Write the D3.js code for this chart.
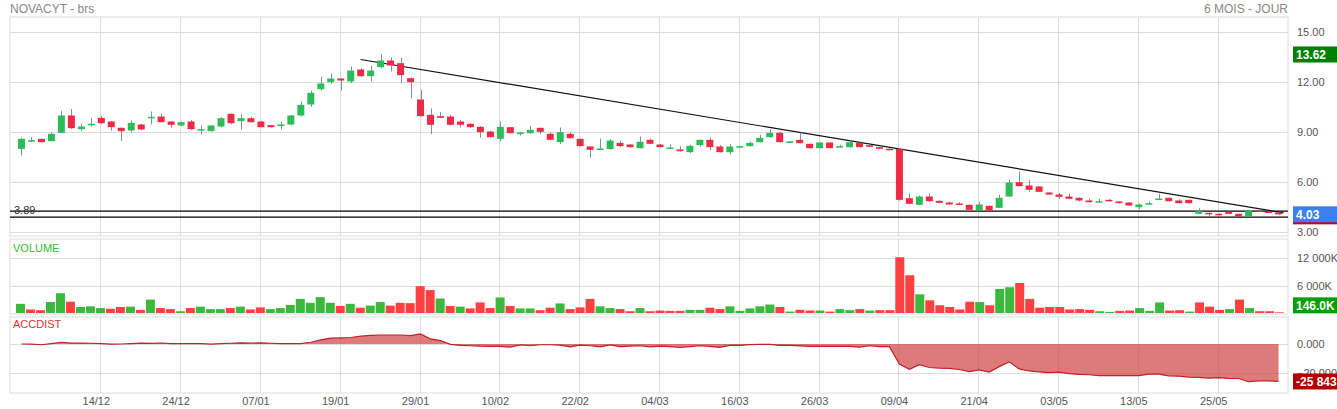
<!DOCTYPE html>
<html><head><meta charset="utf-8">
<script src="https://cdn.jsdelivr.net/npm/d3@7"></script>
<style>body{margin:0;background:#fff}text{font-family:Arial,"Liberation Sans",sans-serif}</style>
</head><body><div id="canvas"></div>
<script>
"use strict"

/* daily candles: open, high, low, close */
let opens = [7.96,8.44,8.56,8.42,8.92,9.96,9.14,9.44,9.82,9.60,9.22,9.06,9.42,9.86,9.90,9.60,9.36,9.60,9.12,9.02,
  9.30,10.06,9.62,9.80,9.60,9.38,9.40,9.42,9.96,10.62,11.54,11.96,12.18,12.00,12.72,12.32,12.86,13.26,13.10,12.20,
  10.92,10.00,9.92,9.90,9.60,9.46,9.28,9.00,8.56,9.26,8.84,8.90,9.22,8.86,8.36,8.86,8.56,8.10,7.96,7.94,
  8.32,8.22,8.00,8.50,8.22,8.02,7.92,7.76,8.18,8.50,8.10,7.76,8.08,8.12,8.36,8.66,8.92,8.38,8.50,8.26,
  8.00,8.34,8.10,8.06,8.32,8.18,8.06,7.96,7.96,5.00,4.60,5.10,4.84,4.74,4.68,4.60,4.26,4.54,4.42,5.10,
  5.96,5.76,5.70,5.34,5.22,5.10,5.02,4.86,4.80,4.90,4.80,4.74,4.46,4.68,4.96,5.02,4.86,4.90,4.06,4.12,
  4.06,4.18,4.06,3.90,4.26,4.20,4.14];
let highs = [8.62,8.66,8.58,8.95,10.24,10.36,9.46,9.82,9.92,9.62,9.24,9.66,9.46,10.20,10.06,9.62,9.60,9.70,9.36,9.38,
  9.86,10.08,10.02,9.90,9.64,9.40,9.56,10.00,10.80,11.46,12.28,12.48,12.20,12.90,12.80,12.96,13.64,13.44,13.42,12.26,
  11.50,10.38,10.16,10.00,9.70,9.50,9.32,9.04,9.60,9.28,8.96,9.34,9.24,8.96,9.24,8.98,8.58,8.12,8.58,8.54,
  8.44,8.26,8.70,8.58,8.24,8.22,8.12,8.20,8.52,8.64,8.18,8.26,8.14,8.40,8.80,9.14,8.98,8.44,8.94,8.28,
  8.36,8.36,8.20,8.48,8.40,8.22,8.08,8.00,8.00,5.28,5.16,5.30,4.86,4.80,4.76,4.62,4.76,4.56,5.20,6.10,
  6.60,6.10,5.72,5.36,5.32,5.28,5.06,4.98,4.96,4.94,4.82,4.76,4.68,4.80,5.26,5.04,4.94,4.92,4.40,4.14,
  4.08,4.20,4.08,4.30,4.28,4.22,4.16];
let lows = [7.56,8.36,8.34,8.40,8.90,9.16,9.02,9.30,9.44,9.06,8.44,8.94,9.08,9.42,9.54,9.22,9.32,9.10,8.82,9.00,
  9.24,9.44,9.10,9.52,9.24,9.24,9.12,9.36,9.90,10.48,11.46,11.86,11.46,11.90,12.26,12.00,12.80,12.60,11.90,10.98,
  9.90,8.84,9.80,9.36,9.26,9.22,8.62,8.64,8.40,8.88,8.76,8.86,8.84,8.48,8.24,8.58,8.10,7.42,7.94,7.92,
  8.06,8.04,7.98,8.24,8.04,8.00,7.80,7.70,8.10,7.90,7.74,7.62,8.04,8.10,8.34,8.62,8.34,8.34,8.28,7.96,
  7.98,7.98,8.04,8.04,8.04,8.06,7.94,7.90,4.84,4.62,4.58,4.78,4.70,4.60,4.58,4.28,4.24,4.24,4.40,5.08,
  5.70,5.38,5.36,5.20,4.96,4.94,4.80,4.74,4.78,4.80,4.68,4.54,4.34,4.60,4.96,4.80,4.68,4.68,4.04,3.90,
  3.96,4.04,3.88,3.88,4.16,4.10,3.98];
let closes = [8.56,8.48,8.36,8.86,9.96,9.20,9.30,9.46,9.50,9.26,9.02,9.52,9.12,9.88,9.56,9.40,9.56,9.14,9.14,9.36,
  9.80,9.50,9.80,9.56,9.26,9.26,9.42,9.96,10.60,11.32,11.88,12.18,12.06,12.66,12.32,12.66,13.26,12.96,12.38,11.96,
  9.92,9.40,9.82,9.40,9.40,9.26,8.96,8.66,9.28,8.90,8.94,9.10,8.98,8.50,8.96,8.60,8.12,7.90,7.98,8.46,
  8.12,8.06,8.38,8.26,8.06,8.04,7.82,8.14,8.50,8.06,7.76,8.10,8.12,8.32,8.62,8.92,8.36,8.40,8.30,8.00,
  8.34,8.00,8.12,8.36,8.06,8.08,7.96,7.94,4.90,4.66,5.10,4.82,4.72,4.62,4.60,4.30,4.62,4.26,5.02,5.94,
  5.72,5.50,5.38,5.22,5.08,4.96,4.86,4.76,4.82,4.82,4.70,4.56,4.62,4.70,4.98,4.82,4.70,4.70,4.22,4.06,
  3.98,4.06,3.90,4.26,4.18,4.12,4.03];

/* volume in thousands of shares */
let volumes = [2000,770,616,2390,4310,2460,1310,1460,1080,924,1310,1390,690,2930,1080,850,385,1080,1390,850,
  850,1080,1390,770,1230,850,1080,1770,3080,2230,3465,2230,1540,2000,1155,1620,2390,1620,2230,2150,
  5850,5000,3160,1540,1390,1000,2310,1080,3390,1540,1000,1000,616,1155,2080,850,1230,3080,1460,1080,
  850,385,1080,385,540,460,460,690,690,1155,850,1460,460,1000,1460,1850,1310,310,690,540,
  540,310,850,616,850,540,616,616,12170,8240,4080,2770,1690,1310,770,2460,2390,1690,5240,5620,
  6545,3080,1155,1310,1310,770,850,690,385,230,460,540,1080,460,2310,540,616,310,2310,1390,
  690,850,2930,1080,385,385,146];

/* accumulation / distribution line */
let accdist = [0,-100,-500,300,1200,600,700,500,200,-100,0,300,600,400,700,300,300,300,300,-100,
  200,500,800,600,800,500,300,300,300,1200,2800,4000,4200,4500,5400,6000,6200,6200,6200,5800,
  7000,3500,2300,-300,-1000,-1200,-1500,-1600,-1600,-2200,-600,-1200,-500,-500,-800,-2000,-800,-1200,-2000,-600,
  -1800,-1400,-1200,-2000,-1500,-1800,-2400,-1800,-1200,-1700,-2300,-1000,-900,-400,-300,-300,-900,-900,-1300,-1600,
  -1600,-1600,-1600,-1600,-2200,-1200,-1800,-1800,-13800,-17500,-14200,-16200,-16600,-16800,-17600,-19000,-17800,-19400,-15600,-12300,
  -17200,-18600,-19200,-19800,-19400,-20400,-21000,-21200,-21800,-21800,-21800,-21800,-21800,-20800,-20800,-22000,-22200,-22800,-23000,-23500,
  -23200,-23700,-23800,-26000,-25400,-25400,-25843];

let tickIndex = [8,16,24,32,40,48,56,64,72,80,88,96,104,112,120];
let tickLabels = ["14/12","24/12","07/01","19/01","29/01","10/02","22/02","04/03","16/03","26/03","09/04","21/04","03/05","13/05","25/05"];
let priceTicks = [15,12,9,6,3];
let volumeTicks = [12000,6000];
let accTicks = [0,-20000];
let trendIndex = [34,126.5];
let trendPrice = [13.32,4.12];
let levelPrices = [4.22,3.86];

let W = 1337, H = 409;
let left = 10, right = 1288;
let drawing = d3.select("#canvas").append("svg").attr("width", W).attr("height", H);

let idx = d3.range(closes.length);
let x = d3.scaleBand().domain(idx).range([15, 15 + 10 * closes.length]).padding(0.3);
let cx = i => x(i) + x.bandwidth() / 2;
let xLin = d3.scaleLinear().domain([0, 1]).range([cx(0), cx(1)]);

let yP = d3.scaleLinear().domain([3, 15]).range([231.5, 31.5]);
let yV = d3.scaleLinear().domain([0, 12000]).range([313, 258]);
let yA = d3.scaleLinear().domain([-20000, 0]).range([373, 344]);

let grid = "#dcdcdc";
let panels = [[17, 236], [239, 314], [317, 393]];

/* panel frames and vertical grid */
panels.forEach(p => {
  drawing.append("rect").attr("x", left).attr("y", p[0]).attr("width", right - left).attr("height", p[1] - p[0])
    .attr("fill", "none").attr("stroke", grid);
  drawing.append("g").selectAll("line").data(tickIndex).join("line")
    .attr("x1", d => Math.round(cx(d)) - 0.5).attr("x2", d => Math.round(cx(d)) - 0.5)
    .attr("y1", p[0]).attr("y2", p[1]).attr("stroke", grid);
});

function hGrid(scale, ticks) {
  drawing.append("g").selectAll("line").data(ticks).join("line")
    .attr("x1", left).attr("x2", right)
    .attr("y1", d => Math.round(scale(d)) + 0.5).attr("y2", d => Math.round(scale(d)) + 0.5)
    .attr("stroke", grid);
}
hGrid(yP, priceTicks);
hGrid(yV, volumeTicks);
hGrid(yA, accTicks);

/* titles */
drawing.append("text").attr("x", left).attr("y", 13).attr("font-size", 12).attr("fill", "#888").text("NOVACYT - brs");
drawing.append("text").attr("x", right).attr("y", 13).attr("font-size", 12).attr("fill", "#888")
  .attr("text-anchor", "end").text("6 MOIS - JOUR");
drawing.append("text").attr("x", 13).attr("y", 252).attr("font-size", 11).attr("fill", "#33bb33").text("VOLUME");
drawing.append("text").attr("x", 13).attr("y", 328).attr("font-size", 11).attr("fill", "#dd3333").text("ACCDIST");

/* horizontal levels and trend line */
drawing.append("g").selectAll("line").data(levelPrices).join("line")
  .attr("x1", left).attr("x2", right).attr("y1", d => yP(d)).attr("y2", d => yP(d))
  .attr("stroke", "#000").attr("stroke-width", 1.2);
drawing.append("text").attr("x", 14).attr("y", yP(levelPrices[1]) - 3).attr("font-size", 11).attr("fill", "#333").text("3.89");
drawing.append("line")
  .attr("x1", xLin(trendIndex[0])).attr("y1", yP(trendPrice[0]))
  .attr("x2", xLin(trendIndex[1])).attr("y2", yP(trendPrice[1]))
  .attr("stroke", "#111").attr("stroke-width", 1.2);

/* candles */
let green = "#2dbd58", red = "#ee2a45";
let candles = drawing.append("g").selectAll("g").data(idx).join("g");
candles.append("line")
  .attr("x1", i => Math.round(cx(i)) + 0.5).attr("x2", i => Math.round(cx(i)) + 0.5)
  .attr("y1", i => yP(highs[i])).attr("y2", i => yP(lows[i]))
  .attr("stroke", "#7890b0").attr("stroke-width", 1);
candles.append("rect")
  .attr("x", i => x(i)).attr("width", x.bandwidth())
  .attr("y", i => yP(Math.max(opens[i], closes[i])))
  .attr("height", i => Math.max(1.5, Math.abs(yP(opens[i]) - yP(closes[i]))))
  .attr("fill", i => closes[i] >= opens[i] ? green : red);

/* volume bars, coloured by close against previous close */
let xv = d3.scaleBand().domain(idx).range([15, 15 + 10 * closes.length]).padding(0.1);
let up = i => i === 0 || closes[i] >= closes[i - 1];
drawing.append("g").selectAll("rect").data(idx).join("rect")
  .attr("x", i => xv(i)).attr("width", xv.bandwidth())
  .attr("y", i => yV(volumes[i])).attr("height", i => yV(0) - yV(volumes[i]))
  .attr("fill", i => up(i) ? "#3cb93c" : "#ff4040");

/* accdist area */
let area = d3.area().x(i => cx(i)).y0(yA(0)).y1(i => yA(accdist[i]));
let line = d3.line().x(i => cx(i)).y(i => yA(accdist[i]));
drawing.append("path").attr("d", area(idx)).attr("fill", "#d04848").attr("opacity", 0.72);
drawing.append("path").attr("d", line(idx)).attr("fill", "none").attr("stroke", "#c0202a").attr("stroke-width", 1.2);

/* x labels */
drawing.append("g").selectAll("text").data(tickIndex).join("text")
  .attr("x", (d, k) => cx(d) - 5).attr("y", 405).attr("text-anchor", "middle")
  .attr("font-size", 11).attr("fill", "#555").text((d, k) => tickLabels[k]);

/* right axis labels */
let axisX = 1297;
function rightLabels(scale, ticks, fmt) {
  drawing.append("g").selectAll("text").data(ticks).join("text")
    .attr("x", axisX).attr("y", d => scale(d) + 4).attr("font-size", 11).attr("fill", "#555").text(fmt);
}
rightLabels(yP, priceTicks, d => d.toFixed(2));
rightLabels(yV, volumeTicks, d => d3.format(",")(d).replace(",", " ") + "K");
rightLabels(yA, accTicks, d => d === 0 ? "0.000" : d3.format(",")(d).replace(",", " "));

function tag(y, label, fill) {
  drawing.append("rect").attr("x", 1293).attr("y", y - 8).attr("width", 44).attr("height", 16).attr("fill", fill);
  drawing.append("text").attr("x", 1296).attr("y", y + 4.5).attr("font-size", 12).attr("font-weight", "bold")
    .attr("fill", "#fff").text(label);
}
let hiPrice = d3.max(highs.slice(30, 40));
drawing.append("rect").attr("x", 1293).attr("y", yP(closes[closes.length - 1]) + 6).attr("width", 44).attr("height", 4).attr("fill", "#cc0000");
tag(yP(13.62), "13.62", "#008000");
tag(yP(closes[closes.length - 1]), closes[closes.length - 1].toFixed(2), "#3d7fef");
tag(yV(volumes[volumes.length - 1]) - 7, volumes[volumes.length - 1].toFixed(1) + "K", "#00a000");
tag(yA(accdist[accdist.length - 1]), "-25 843", "#b00000");
</script></body></html>
